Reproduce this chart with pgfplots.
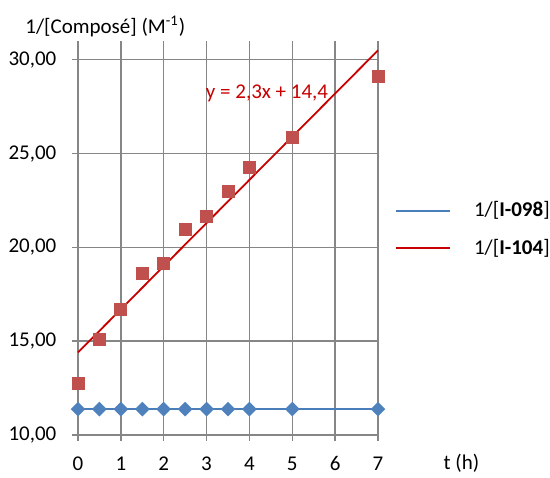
\documentclass[border=0pt]{standalone}
\usepackage{fontspec}
\setmainfont{Carlito}
\usepackage{pgfplots}
\pgfplotsset{compat=1.18}
\definecolor{blueline}{RGB}{74,126,187}
\definecolor{bluemark}{RGB}{79,129,189}
\definecolor{redmark}{RGB}{192,80,77}
\definecolor{trend}{RGB}{200,0,0}
\definecolor{gridgray}{RGB}{134,134,134}
\begin{document}
\begin{tikzpicture}
\begin{axis}[
  scale only axis, width=150pt, height=197pt,
  xmin=0, xmax=7, ymin=10, ymax=31,
  axis lines=left, axis line style={-, gridgray, line width=0.7pt},
  xtick={0,1,2,3,4,5,6,7}, ytick={10,15,20,25,30},
  grid=major, major grid style={gridgray, line width=0.7pt},
  tick align=outside, major tick length=3pt,
  tick style={gridgray, line width=0.7pt},
  font=\fontsize{10.5}{12.6}\selectfont,
  tick label style={font=\fontsize{10.5}{12.6}\selectfont},
  /pgf/number format/assume math mode=true,
  yticklabel style={xshift=-4.3pt, /pgf/number format/.cd, fixed, fixed zerofill, precision=2, use comma},
  xticklabel style={yshift=-4.3pt},
  ylabel={1/[Composé] (M\textsuperscript{-1})},
  ylabel style={rotate=-90, at={(axis description cs:-0.1767,1.038)}, anchor=west, inner sep=0pt, font=\fontsize{10.5}{12.6}\selectfont},
  xlabel={t (h)},
  xlabel style={at={(axis description cs:1.278,-0.0723)}, anchor=center, inner sep=0pt, font=\fontsize{10.5}{12.6}\selectfont},
  clip=false,
  legend style={draw=none, fill=none, at={(axis description cs:1.057,0.5216)}, anchor=west,
    inner sep=0pt, row sep=9.5pt, cells={anchor=west},
    nodes={inner sep=0pt}, font=\fontsize{10.5}{12.6}\selectfont,
    /tikz/every odd column/.append style={column sep=11.8pt}},
  legend image code/.code={\draw[#1] (0pt,0pt) -- (26.5pt,0pt);},
]
\addplot[blueline, line width=1pt, mark=square*, mark size=2.1pt,
  mark options={rotate=45, draw=bluemark, fill=bluemark}, forget plot]
  coordinates {(0,11.38) (0.5,11.38) (1,11.38) (1.5,11.38) (2,11.38) (2.5,11.38)
               (3,11.38) (3.5,11.38) (4,11.38) (5,11.38) (7,11.38)};
\addplot[trend, line width=0.9pt, forget plot] coordinates {(0,14.4) (7,30.5)};
\addplot[only marks, mark=square*, mark size=3pt,
  mark options={draw=redmark, fill=redmark}, forget plot]
  coordinates {(0,12.75) (0.5,15.1) (1,16.69) (1.5,18.63) (2,19.17) (2.5,20.94)
               (3,21.65) (3.5,23.0) (4,24.24) (5,25.87) (7,29.1)};
\node[text=trend, font=\fontsize{10.5}{12.6}\selectfont, anchor=center] at (axis cs:4.41,28.2) {y = 2,3x + 14,4};
\addlegendimage{blueline, line width=1pt}
\addlegendentry{1/[\textbf{I-098}]}
\addlegendimage{trend, line width=1pt}
\addlegendentry{1/[\textbf{I-104}]}
\end{axis}
\path (-39pt,-19pt) rectangle (236pt,217.5pt);
\end{tikzpicture}
\end{document}
